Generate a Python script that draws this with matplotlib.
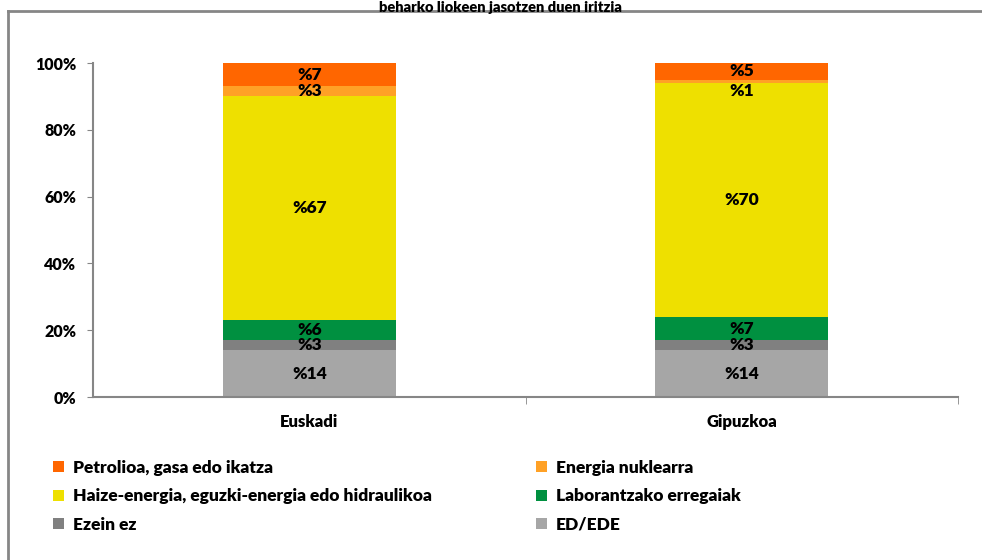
import matplotlib.pyplot as plt
import numpy as np
from matplotlib.lines import Line2D

regions = ['Euskadi', 'Gipuzkoa']
series = ['ED/EDE', 'Ezein ez', 'Laborantzako erregaiak',
          'Haize-energia, eguzki-energia edo hidraulikoa',
          'Energia nuklearra', 'Petrolioa, gasa edo ikatza']
ed_ede = [14, 14]
ezein_ez = [3, 3]
laborantza = [6, 7]
haize = [67, 70]
nuklearra = [3, 1]
petrolioa = [7, 5]
values = [ed_ede, ezein_ez, laborantza, haize, nuklearra, petrolioa]
colors = ['#a6a6a6', '#808080', '#009040', '#eee000', '#ffa126', '#ff6600']
yticks = [0, 20, 40, 60, 80, 100]

plt.rcParams['font.family'] = ['Lato', 'DejaVu Sans']

fig = plt.figure(figsize=(9.82, 5.6), dpi=100)
ax = fig.add_axes([0.0947, 0.291, 0.881, 0.5964])

x = np.arange(len(regions))
bottom = np.zeros(len(regions))
handles = {}
for name, vals, col in zip(series, values, colors):
    vals = np.array(vals, dtype=float)
    bars = ax.bar(x, vals, 0.4, bottom=bottom, color=col, label=name, zorder=2)
    handles[name] = bars
    for i, (b, v) in enumerate(zip(bottom, vals)):
        yc = b + v / 2
        # small segments nudged like the original labels
        if name == 'Energia nuklearra' and v < 2:
            yc -= 3
        ax.text(x[i], yc, '%' + str(int(v)), ha='center', va='center',
                fontsize=12.5, fontweight='heavy', color='black', zorder=3)
    bottom += vals

ax.set_xlim(-0.5, 1.5)
ax.set_ylim(0, 100)
ax.set_yticks(yticks)
ax.set_yticklabels([f'{t}%' for t in yticks], fontsize=11.5, fontweight='heavy')
ax.set_xticks(x)
ax.set_xticklabels(regions, fontsize=12, fontweight='heavy')
ax.set_xticks([0.5, 1.5], minor=True)
ax.tick_params(axis='x', which='major', length=0, pad=12)
ax.tick_params(axis='x', which='minor', length=5, color='#868686', direction='out')
ax.tick_params(axis='y', length=4, color='#868686', pad=8)
for s in ['top', 'right']:
    ax.spines[s].set_visible(False)
for s in ['left', 'bottom']:
    ax.spines[s].set_color('#868686')
    ax.spines[s].set_linewidth(1.5)

order = ['Petrolioa, gasa edo ikatza',
         'Haize-energia, eguzki-energia edo hidraulikoa', 'Ezein ez',
         'Energia nuklearra', 'Laborantzako erregaiak', 'ED/EDE']
leg = fig.legend([handles[n] for n in order], order, ncol=2,
                 loc='upper left', bbox_to_anchor=(0.047, 0.191),
                 frameon=False, fontsize=12.5, handlelength=0.6,
                 handleheight=0.6, handletextpad=0.55, labelspacing=0.72,
                 columnspacing=6.0, borderaxespad=0)
for t in leg.get_texts():
    t.set_fontweight('heavy')

# chart frame and title
fig.add_artist(Line2D([8 / 982, 1], [1 - 11 / 560] * 2, color='#868686', lw=2))
fig.add_artist(Line2D([8 / 982] * 2, [0, 1 - 11 / 560], color='#868686', lw=2))
fig.text(0.51, 1 - 1 / 560, 'beharko liokeen jasotzen duen iritzia',
         ha='center', va='top', fontsize=10.5, fontweight='heavy')

fig.savefig('out.png', dpi=100)
